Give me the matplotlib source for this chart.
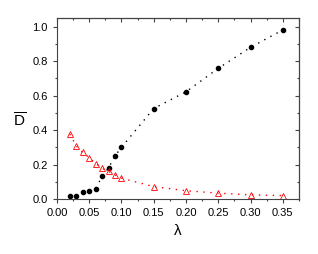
import matplotlib
matplotlib.use('Agg')
import matplotlib.pyplot as plt
from matplotlib.ticker import MultipleLocator, FormatStrFormatter

plt.rcParams['font.family'] = ['Liberation Sans', 'DejaVu Sans']
plt.rcParams['mathtext.fontset'] = 'custom'
plt.rcParams['mathtext.rm'] = 'Liberation Sans'
plt.rcParams['mathtext.it'] = 'Liberation Sans'

# 데이터
lam = [0.02, 0.03, 0.04, 0.05, 0.06, 0.07, 0.08, 0.09, 0.10, 0.15, 0.20, 0.25, 0.30, 0.35]
d_black = [0.016, 0.02, 0.039, 0.044, 0.06, 0.131, 0.181, 0.25, 0.30, 0.525, 0.622, 0.758, 0.88, 0.981]
d_red = [0.377, 0.308, 0.27, 0.24, 0.206, 0.179, 0.16, 0.14, 0.121, 0.072, 0.048, 0.034, 0.024, 0.02]

fig = plt.figure(figsize=(3.18, 2.54), dpi=100)
ax = fig.add_axes([0.179, 0.2165, 0.761, 0.7125])

ax.plot(lam, d_black, color='black', linestyle=(0, (1, 4)), linewidth=1,
        marker='o', markersize=3)
ax.plot(lam, d_red, color='red', linestyle=(0, (1, 4)), linewidth=1,
        marker='^', markersize=4, markerfacecolor='none', markeredgewidth=0.6)

ax.set_xlim(0, 0.375)
ax.set_ylim(0, 1.05)
ax.xaxis.set_major_locator(MultipleLocator(0.05))
ax.xaxis.set_minor_locator(MultipleLocator(0.025))
ax.yaxis.set_major_locator(MultipleLocator(0.2))
ax.yaxis.set_minor_locator(MultipleLocator(0.1))
ax.xaxis.set_major_formatter(FormatStrFormatter('%.2f'))
ax.yaxis.set_major_formatter(FormatStrFormatter('%.1f'))

for s in ax.spines.values():
    s.set_color('#444444')
    s.set_linewidth(0.8)

ax.tick_params(which='major', direction='out', length=3, width=0.8, labelsize=8, color='#444444')
ax.tick_params(which='minor', direction='out', length=1.5, width=0.8, color='#444444')

# 위쪽, 오른쪽 눈금 (안쪽)
top = ax.secondary_xaxis('top')
top.xaxis.set_major_locator(MultipleLocator(0.05))
top.xaxis.set_minor_locator(MultipleLocator(0.025))
top.tick_params(which='major', direction='in', length=3, width=0.8, labeltop=False, color='#444444')
top.tick_params(which='minor', direction='in', length=1.5, width=0.8, color='#444444')
right = ax.secondary_yaxis('right')
right.yaxis.set_major_locator(MultipleLocator(0.2))
right.yaxis.set_minor_locator(MultipleLocator(0.1))
right.tick_params(which='major', direction='in', length=3, width=0.8, labelright=False, color='#444444')
right.tick_params(which='minor', direction='in', length=1.5, width=0.8, color='#444444')

ax.set_xlabel('λ', fontsize=11)
ax.set_ylabel(r'$\overline{\mathrm{D}}$', fontsize=11, rotation=0, va='center', ha='center')
ax.yaxis.set_label_coords(-0.153, 0.43)

fig.savefig('out.png', dpi=100)
